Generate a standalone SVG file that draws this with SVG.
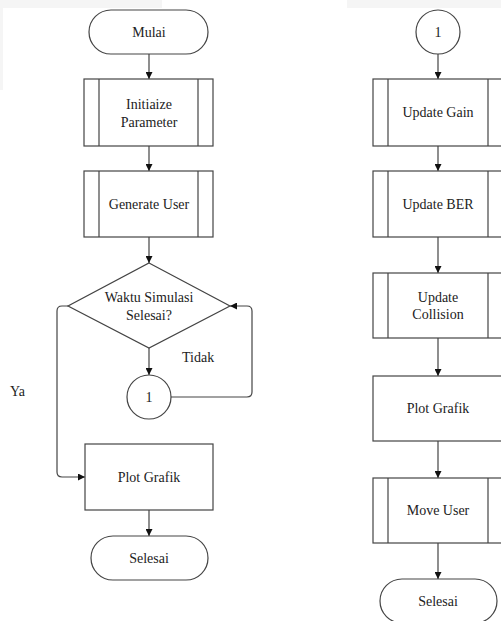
<svg xmlns="http://www.w3.org/2000/svg" width="501" height="621" viewBox="0 0 501 621" font-family="'Liberation Serif', 'DejaVu Serif', serif">
<style>
.s{fill:#fff;stroke:#444;stroke-width:1.2}
.l{fill:none;stroke:#444;stroke-width:1.2}
.c{fill:none;stroke:#444;stroke-width:1.2;marker-end:url(#ah)}
text{font-family:'Liberation Serif','DejaVu Serif',serif;font-size:14px;fill:#222;text-anchor:middle;dominant-baseline:central}
.st{text-anchor:start}
</style>
<defs>
<marker id="ah" viewBox="0 0 10 10" refX="10" refY="5" markerWidth="7" markerHeight="7" markerUnits="userSpaceOnUse" orient="auto">
<path d="M0,0 L10,5 L0,10 Z" fill="#111"/>
</marker>
</defs>
<rect x="0" y="0" width="162" height="8" fill="#f5f5f5"/>
<rect x="0" y="8" width="3" height="82" fill="#f5f5f5"/>
<rect x="347" y="0" width="154" height="8" fill="#f5f5f5"/>
<g id="connectors">
<line class="c" x1="149" y1="54" x2="149" y2="79"/>
<line class="c" x1="149" y1="146" x2="149" y2="171"/>
<line class="c" x1="149" y1="237" x2="149" y2="263"/>
<line class="c" x1="149" y1="348" x2="149" y2="375"/>
<path class="c" d="M171,397 H247 Q252,397 252,392 V311 Q252,306 247,306 H230"/>
<path class="c" d="M68,306 H62 Q57,306 57,311 V472 Q57,477 62,477 H85"/>
<line class="c" x1="149" y1="510" x2="149" y2="536"/>
<line class="c" x1="438" y1="54" x2="438" y2="79"/>
<line class="c" x1="438" y1="146" x2="438" y2="171"/>
<line class="c" x1="438" y1="237" x2="438" y2="273"/>
<line class="c" x1="438" y1="338" x2="438" y2="376"/>
<line class="c" x1="438" y1="441" x2="438" y2="478"/>
<line class="c" x1="438" y1="543" x2="438" y2="579"/>
<text class="st" x="182" y="357">Tidak</text>
<text class="st" x="10" y="391">Ya</text>
</g>
<g id="mulai">
<rect class="s" x="89" y="10" width="119" height="44" rx="22"/>
<text x="149" y="32">Mulai</text>
</g>
<g id="init">
<rect class="s" x="84" y="79" width="129" height="67"/>
<line class="l" x1="99" y1="79" x2="99" y2="146"/>
<line class="l" x1="198" y1="79" x2="198" y2="146"/>
<text x="149" y="104">Initiaize</text>
<text x="149" y="122">Parameter</text>
</g>
<g id="generate">
<rect class="s" x="84" y="171" width="129" height="66"/>
<line class="l" x1="99" y1="171" x2="99" y2="237"/>
<line class="l" x1="198" y1="171" x2="198" y2="237"/>
<text x="149" y="204">Generate User</text>
</g>
<g id="decision">
<polygon class="s" points="149,263 230,306 149,348 68,306"/>
<text x="149" y="297">Waktu Simulasi</text>
<text x="149" y="315">Selesai?</text>
</g>
<g id="conn1a">
<circle class="s" cx="149" cy="397" r="22"/>
<text x="149" y="397">1</text>
</g>
<g id="plot1">
<rect class="s" x="85" y="444" width="128" height="66"/>
<text x="149" y="477">Plot Grafik</text>
</g>
<g id="selesai1">
<rect class="s" x="91" y="536" width="117" height="44" rx="22"/>
<text x="149" y="558">Selesai</text>
</g>
<g id="conn1b">
<circle class="s" cx="438" cy="32" r="22"/>
<text x="438" y="32">1</text>
</g>
<g id="gain">
<rect class="s" x="373" y="79" width="130" height="67"/>
<line class="l" x1="388" y1="79" x2="388" y2="146"/>
<line class="l" x1="488" y1="79" x2="488" y2="146"/>
<text x="438" y="112">Update Gain</text>
</g>
<g id="ber">
<rect class="s" x="373" y="171" width="130" height="66"/>
<line class="l" x1="388" y1="171" x2="388" y2="237"/>
<line class="l" x1="488" y1="171" x2="488" y2="237"/>
<text x="438" y="204">Update BER</text>
</g>
<g id="collision">
<rect class="s" x="373" y="273" width="130" height="65"/>
<line class="l" x1="388" y1="273" x2="388" y2="338"/>
<line class="l" x1="488" y1="273" x2="488" y2="338"/>
<text x="438" y="297">Update</text>
<text x="438" y="314">Collision</text>
</g>
<g id="plot2">
<rect class="s" x="373" y="376" width="130" height="65"/>
<text x="438" y="408">Plot Grafik</text>
</g>
<g id="move">
<rect class="s" x="373" y="478" width="130" height="65"/>
<line class="l" x1="388" y1="478" x2="388" y2="543"/>
<line class="l" x1="488" y1="478" x2="488" y2="543"/>
<text x="438" y="510">Move User</text>
</g>
<g id="selesai2">
<rect class="s" x="380" y="579" width="117" height="44" rx="22"/>
<text x="438" y="601">Selesai</text>
</g>
</svg>
